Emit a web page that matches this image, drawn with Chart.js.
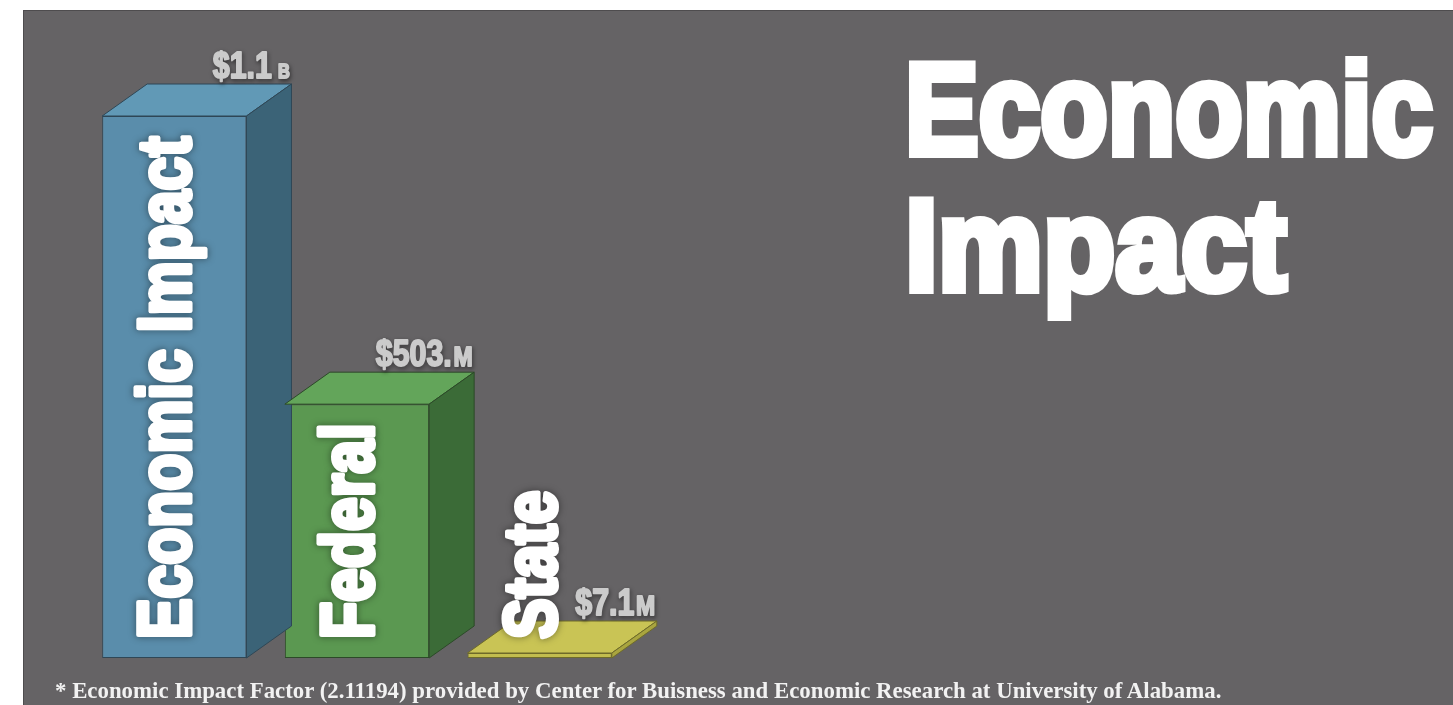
<!DOCTYPE html>
<html>
<head>
<meta charset="utf-8">
<script src="https://cdn.jsdelivr.net/npm/chart.js@4.4.1/dist/chart.umd.min.js"></script>
<style>
    html, body { margin: 0; padding: 0; background: #ffffff; }
    #panel {
        position: absolute; left: 23px; top: 10px; right: 0; bottom: 0;
        background: #656365;
        border-top: 1px solid #4e4c4e; border-left: 1px solid #4e4c4e;
    }
    #wrap { position: absolute; left: 0; top: 0; width: 1453px; height: 705px; }
    .title {
        position: absolute; left: 905px;
        font-family: "Liberation Sans", Arial, sans-serif;
        font-weight: bold; font-size: 130px; line-height: 135px;
        color: #ffffff; -webkit-text-stroke: 8px #ffffff;
        transform-origin: 0 0; white-space: nowrap;
    }
    #title1 { top: 42px; transform: scaleX(0.85); }
    #title2 { top: 178px; transform: scaleX(0.91); }
    #note {
        position: absolute; left: 55px; top: 680px;
        font-family: "Liberation Serif", serif; font-weight: bold;
        font-size: 22.5px; line-height: 22px; color: #f2f2f2; white-space: nowrap;
        transform-origin: 0 0; transform: scaleX(1.015);
    }
</style>
</head>
<body>
<div id="panel"></div>
<div id="wrap"><canvas id="impactChart"></canvas></div>
<div class="title" id="title1">Economic</div>
<div class="title" id="title2">Impact</div>
<div id="note">* Economic Impact Factor (2.11194) provided by Center for Buisness and Economic Research at University of Alabama.</div>

<script>
// values in millions of dollars
const categories = ['Economic Impact', 'Federal', 'State'];
const amounts = [1074, 503, 7.1];
const amountLabels = ['$1.1', '$503.', '$7.1'];
const unitLabels = [' B', 'M', 'M'];

// styling for the fake 3d boxes
const frontColors = ['#5a8dab', '#5b9851', '#c2bd4e'];
const topColors = ['#6199b6', '#63a55a', '#c9c455'];
const sideColors = ['#3b6377', '#3b6b37', '#a9a53f'];
const edgeColors = ['#2f4756', '#2c4a28', '#6e6b2a'];
const depthX = 45;
const depthY = 32;
const heavyFont = '"Liberation Sans", Arial, sans-serif';

// squeezed, fattened text to look like a heavy condensed face
function heavyText(ctx, text, size, squeeze, weight, shadow) {
    ctx.save();
    ctx.scale(squeeze, 1);
    ctx.font = 'bold ' + size + 'px ' + heavyFont;
    ctx.lineWidth = weight;
    ctx.lineJoin = 'round';
    ctx.strokeStyle = ctx.fillStyle;
    if (shadow) {
        ctx.shadowColor = shadow.color;
        ctx.shadowBlur = shadow.blur;
        ctx.shadowOffsetX = shadow.dx;
        ctx.shadowOffsetY = shadow.dy;
    }
    ctx.strokeText(text, 0, 0);
    ctx.shadowColor = 'transparent';
    ctx.fillText(text, 0, 0);
    ctx.restore();
}

function textWidth(ctx, text, size, squeeze, weight) {
    ctx.save();
    ctx.font = 'bold ' + size + 'px ' + heavyFont;
    const w = (ctx.measureText(text).width + weight) * squeeze;
    ctx.restore();
    return w;
}

const boxPlugin = {
    id: 'box3d',
    afterDatasetsDraw(chart) {
        const ctx = chart.ctx;
        const meta = chart.getDatasetMeta(0);
        meta.data.forEach((bar, i) => {
            const left = bar.x - bar.width / 2;
            const right = bar.x + bar.width / 2;
            const top = bar.y;
            const bottom = bar.base;

            ctx.save();
            ctx.lineWidth = 1;
            ctx.strokeStyle = edgeColors[i];

            // top face
            ctx.beginPath();
            ctx.moveTo(left, top);
            ctx.lineTo(left + depthX, top - depthY);
            ctx.lineTo(right + depthX, top - depthY);
            ctx.lineTo(right, top);
            ctx.closePath();
            ctx.fillStyle = topColors[i];
            ctx.fill();
            ctx.stroke();

            // right side face
            ctx.beginPath();
            ctx.moveTo(right, top);
            ctx.lineTo(right + depthX, top - depthY);
            ctx.lineTo(right + depthX, bottom - depthY);
            ctx.lineTo(right, bottom);
            ctx.closePath();
            ctx.fillStyle = sideColors[i];
            ctx.fill();
            ctx.stroke();
            ctx.restore();

            // value label above the back corner
            const xEnd = right + depthX;
            const yBase = top - depthY - 6;
            const unitSize = unitLabels[i].trim() === 'B' ? 20 : 28;
            const valShadow = { color: 'rgba(0,0,0,0.6)', blur: 4, dx: 1, dy: 2 };
            const uw = textWidth(ctx, unitLabels[i], unitSize, 0.82, 2);
            const aw = textWidth(ctx, amountLabels[i], 37, 0.82, 2);
            ctx.save();
            ctx.fillStyle = '#cbcbcb';
            ctx.textBaseline = 'alphabetic';
            ctx.translate(xEnd - uw, yBase);
            heavyText(ctx, unitLabels[i], unitSize, 0.82, 2, valShadow);
            ctx.translate(-aw, 0);
            heavyText(ctx, amountLabels[i], 37, 0.82, 2, valShadow);
            ctx.restore();

            // rotated category name
            ctx.save();
            ctx.translate(bar.x + 16, bottom - 19);
            ctx.rotate(-Math.PI / 2);
            ctx.fillStyle = '#ffffff';
            ctx.textAlign = 'left';
            ctx.textBaseline = 'alphabetic';
            heavyText(ctx, categories[i], 74, 0.82, 5,
                { color: 'rgba(0,0,0,0.5)', blur: 7, dx: 0, dy: 0 });
            ctx.restore();
        });
    }
};

new Chart(document.getElementById('impactChart'), {
    type: 'bar',
    data: {
        labels: categories,
        datasets: [{
            data: amounts,
            backgroundColor: frontColors,
            borderColor: edgeColors,
            borderWidth: 1,
            borderSkipped: false,
            barPercentage: 0.79,
            categoryPercentage: 1,
            minBarLength: 5
        }]
    },
    options: {
        responsive: true,
        maintainAspectRatio: false,
        animation: false,
        layout: { padding: { left: 83, right: 822, top: 116, bottom: 47 } },
        plugins: { legend: { display: false }, tooltip: { enabled: false } },
        scales: {
            x: { display: false },
            y: { display: false, min: 0, max: 1074 }
        }
    },
    plugins: [boxPlugin]
});
</script>
</body>
</html>
